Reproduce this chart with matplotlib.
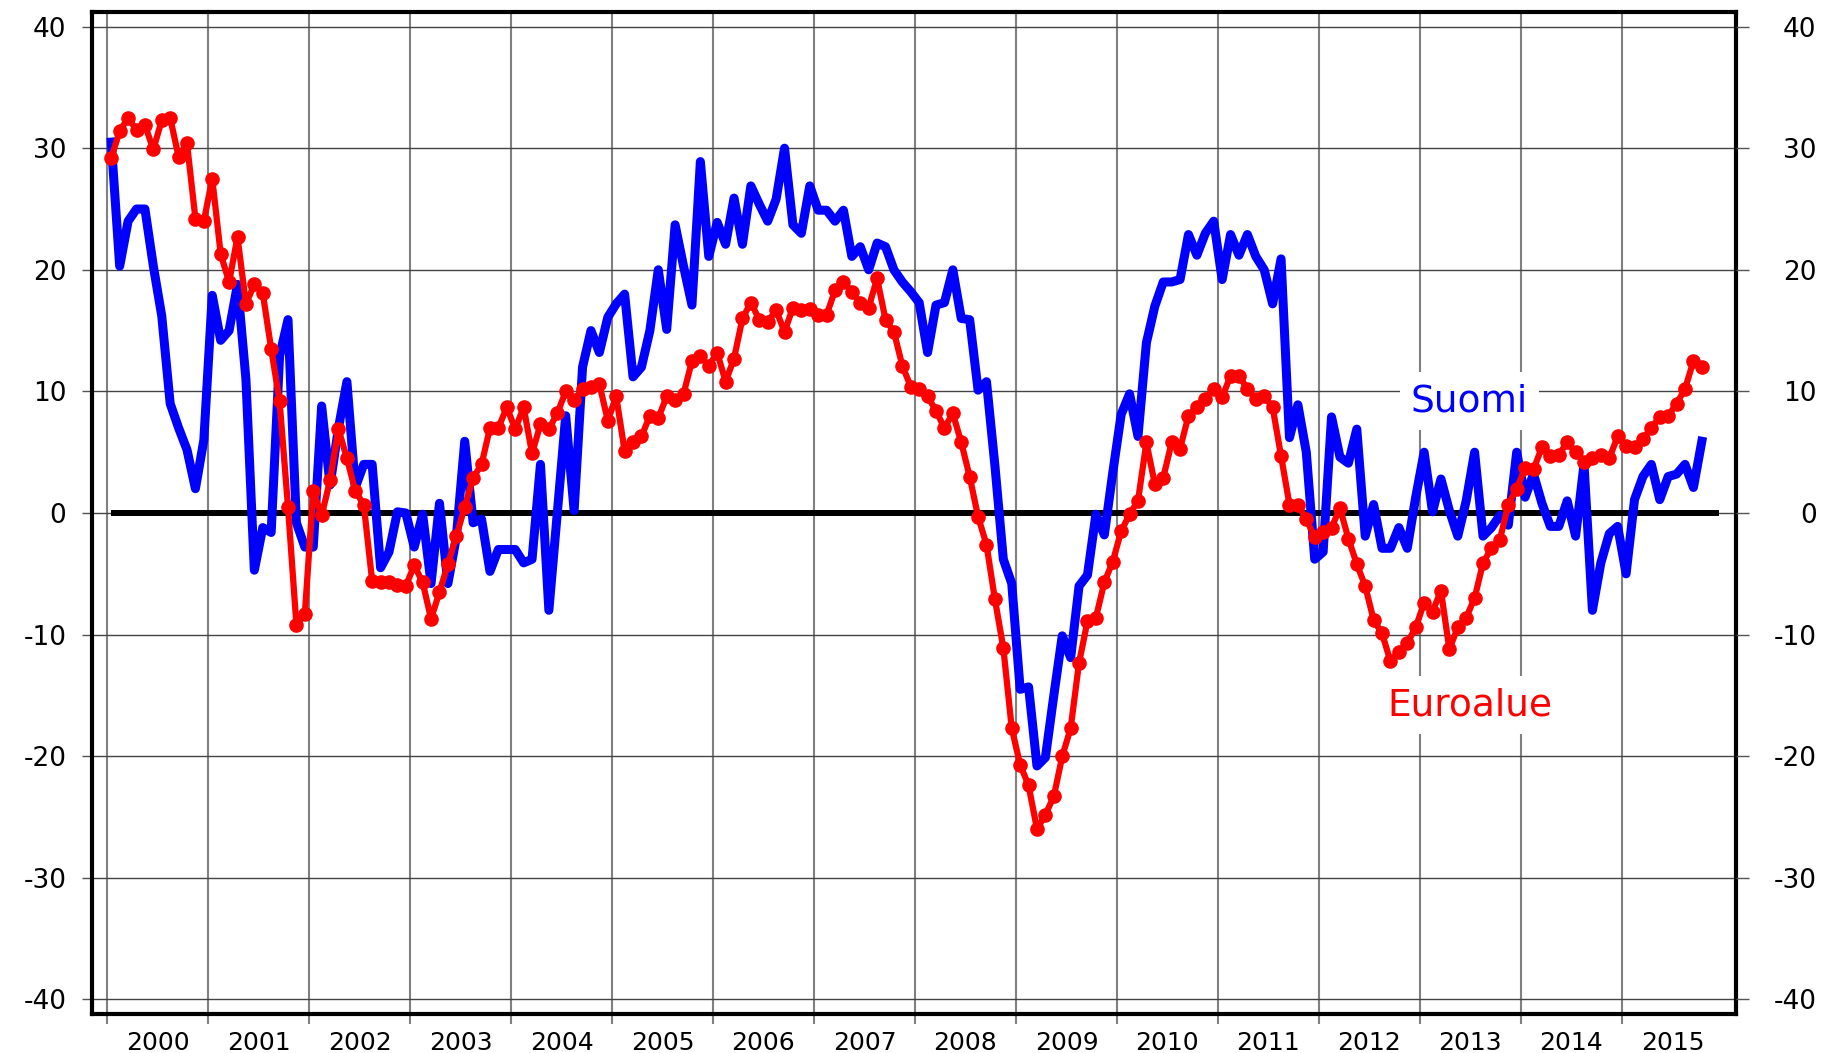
import matplotlib
matplotlib.use("Agg")
import matplotlib.pyplot as plt
import numpy as np

# Monthly balance figures, January 2000 onwards
YEARS = list(range(2000, 2016))
Y_TICKS = [-40, -30, -20, -10, 0, 10, 20, 30, 40]

SUOMI = [
    30.5, 20.3, 24.0, 25.0, 25.0, 20.3, 16.2, 9.0, 7.0, 5.2, 2.0, 6.0,        # 2000
    17.9, 14.2, 15.0, 18.8, 11.0, -4.7, -1.2, -1.6, 12.9, 15.9, -0.8, -2.8,   # 2001
    -2.8, 8.8, 2.3, 7.0, 10.8, 2.1, 4.0, 4.0, -4.5, -3.2, 0.1, 0.0,           # 2002
    -2.8, -0.1, -5.8, 0.8, -5.8, -2.0, 5.9, -0.8, -0.5, -4.8, -3.0, -3.0,     # 2003
    -3.0, -4.1, -3.8, 4.0, -8.0, 0.0, 8.0, 0.2, 12.0, 15.0, 13.2, 16.1,       # 2004
    17.2, 18.0, 11.2, 12.0, 15.0, 20.0, 15.1, 23.7, 20.3, 17.1, 28.9, 21.1,   # 2005
    23.9, 22.1, 25.9, 22.1, 26.9, 25.4, 24.0, 25.8, 30.0, 23.7, 23.0, 26.9,   # 2006
    24.9, 24.9, 24.0, 24.9, 21.1, 21.9, 20.0, 22.2, 21.9, 20.0, 19.0, 18.2,   # 2007
    17.3, 13.2, 17.1, 17.3, 20.0, 16.0, 15.9, 10.1, 10.8, 3.9, -3.8, -5.8,    # 2008
    -14.5, -14.3, -20.8, -20.1, -15.0, -10.1, -11.9, -6.0, -5.1, -0.1, -1.8, 3.3,  # 2009
    8.1, 9.8, 6.3, 14.0, 17.0, 19.0, 19.0, 19.2, 22.9, 21.2, 23.0, 24.0,      # 2010
    19.2, 22.9, 21.2, 22.9, 21.1, 20.0, 17.2, 20.9, 6.2, 8.9, 5.0, -3.8,      # 2011
    -3.2, 7.9, 4.6, 4.1, 6.9, -1.9, 0.7, -2.9, -2.9, -1.2, -2.9, 1.3,         # 2012
    5.0, 0.1, 2.8, 0.2, -1.9, 1.0, 5.0, -1.9, -1.2, -0.2, -1.0, 5.0,          # 2013
    1.3, 3.2, 0.8, -1.1, -1.1, 1.0, -1.9, 4.0, -8.0, -4.1, -1.7, -1.1,       # 2014
    -5.0, 1.1, 3.0, 4.0, 1.1, 3.0, 3.2, 4.0, 2.1, 5.9,                        # 2015
]

EUROALUE = [
    29.2, 31.4, 32.5, 31.5, 31.9, 29.9, 32.3, 32.5, 29.3, 30.4, 24.2, 24.0,   # 2000
    27.5, 21.3, 19.0, 22.7, 17.2, 18.8, 18.1, 13.5, 9.2, 0.5, -9.2, -8.3,     # 2001
    1.8, -0.2, 2.7, 6.9, 4.5, 1.8, 0.7, -5.6, -5.7, -5.7, -5.9, -6.0,         # 2002
    -4.3, -5.7, -8.7, -6.5, -4.2, -1.9, 0.5, 2.9, 4.0, 7.0, 7.0, 8.7,         # 2003
    6.9, 8.7, 4.9, 7.3, 6.9, 8.2, 10.0, 9.3, 10.2, 10.4, 10.6, 7.6,           # 2004
    9.6, 5.1, 5.8, 6.3, 8.0, 7.8, 9.6, 9.3, 9.8, 12.5, 12.9, 12.1,            # 2005
    13.2, 10.8, 12.7, 16.0, 17.3, 15.9, 15.7, 16.7, 14.9, 16.9, 16.7, 16.8,   # 2006
    16.3, 16.3, 18.3, 19.0, 18.2, 17.3, 16.9, 19.3, 15.9, 14.9, 12.1, 10.4,   # 2007
    10.2, 9.6, 8.4, 7.0, 8.2, 5.8, 3.0, -0.3, -2.6, -7.1, -11.1, -17.7,       # 2008
    -20.7, -22.4, -26.0, -24.8, -23.3, -20.0, -17.7, -12.3, -8.9, -8.6, -5.7, -4.0,  # 2009
    -1.5, -0.1, 1.0, 5.8, 2.4, 2.9, 5.8, 5.3, 8.0, 8.7, 9.4, 10.2,            # 2010
    9.5, 11.3, 11.3, 10.2, 9.4, 9.6, 8.7, 4.7, 0.7, 0.7, -0.5, -2.0,          # 2011
    -1.6, -1.2, 0.4, -2.1, -4.2, -6.0, -8.8, -9.9, -12.2, -11.4, -10.7, -9.4, # 2012
    -7.4, -8.1, -6.4, -11.2, -9.4, -8.6, -7.0, -4.1, -2.9, -2.2, 0.7, 2.0,    # 2013
    3.7, 3.6, 5.4, 4.7, 4.8, 5.8, 5.0, 4.2, 4.5, 4.8, 4.5, 6.3,               # 2014
    5.5, 5.4, 6.1, 7.0, 7.9, 8.0, 9.0, 10.2, 12.5, 12.0,                      # 2015
]

SERIES_LABELS = {"suomi": "Suomi", "euro": "Euroalue"}


def month_axis(n: int, start: int = 2000) -> np.ndarray:
    # each month sits in the middle of its slot
    return start + (np.arange(n) + 0.5) / 12.0


def main() -> None:
    plt.rcParams["font.family"] = ["DejaVu Sans"]
    plt.rcParams["axes.unicode_minus"] = False

    fig = plt.figure(figsize=(18.22, 10.53), dpi=100)
    ax = fig.add_axes([0.0505, 0.037, 0.9023, 0.9516])

    x_fi = month_axis(len(SUOMI))
    x_eu = month_axis(len(EUROALUE))

    # zero reference over the whole period
    zero_x = [YEARS[0] + 0.5 / 12, YEARS[-1] + 11.5 / 12]
    ax.plot(zero_x, [0, 0], color="black", lw=4.3, solid_capstyle="butt", zorder=1.5)

    ax.plot(x_fi, SUOMI, color="#0000ff", lw=6.5, solid_joinstyle="round", zorder=2.5)
    ax.plot(x_eu, EUROALUE, color="#ff0000", lw=4.5, marker="o", ms=9.5,
            mec="#ff0000", mfc="#ff0000", zorder=3)

    ax.set_xlim(1999.851, 2016.13)
    ax.set_ylim(-41.2, 41.2)

    ax.set_axisbelow(True)
    ax.set_xticks(YEARS)
    ax.set_xticks([y + 0.5 for y in YEARS], minor=True)
    ax.set_xticklabels([])
    ax.set_xticklabels([str(y) for y in YEARS], minor=True)
    ax.tick_params(axis="x", which="major", direction="out", length=7,
                   width=1.5, color="#808080")
    ax.tick_params(axis="x", which="minor", length=0, pad=12, labelsize=18)
    ax.grid(axis="x", which="major", color="#808080", lw=1.5)

    ax.set_yticks(Y_TICKS)
    ax.set_yticklabels([str(v) for v in Y_TICKS])
    ax.tick_params(axis="y", direction="out", length=7.5, width=1.0,
                   color="#555555", labelsize=19, pad=11)
    ax.grid(axis="y", color="#444444", lw=1.0)

    for spine in ax.spines.values():
        spine.set_linewidth(3.0)
        spine.set_color("black")

    # mirrored scale on the right, labels flush right
    ax2 = ax.twinx()
    ax2.set_ylim(ax.get_ylim())
    ax2.set_yticks(Y_TICKS)
    ax2.set_yticklabels([str(v) for v in Y_TICKS])
    ax2.tick_params(axis="y", direction="out", length=9, width=1.0,
                    color="#555555", labelsize=19, pad=49)
    plt.setp(ax2.get_yticklabels(), ha="right")
    for spine in ax2.spines.values():
        spine.set_visible(False)

    box = dict(facecolor="white", edgecolor="none", boxstyle="square,pad=0.3")
    ax.text(2013.49, 9.2, SERIES_LABELS["suomi"], color="#0000ff", fontsize=27,
            ha="center", va="center", bbox=box, zorder=1.2)
    ax.text(2013.49, -15.8, SERIES_LABELS["euro"], color="#ff0000", fontsize=27,
            ha="center", va="center", bbox=box, zorder=1.2)

    fig.savefig("out.png", dpi=100)
    plt.close(fig)


if __name__ == "__main__":
    main()
